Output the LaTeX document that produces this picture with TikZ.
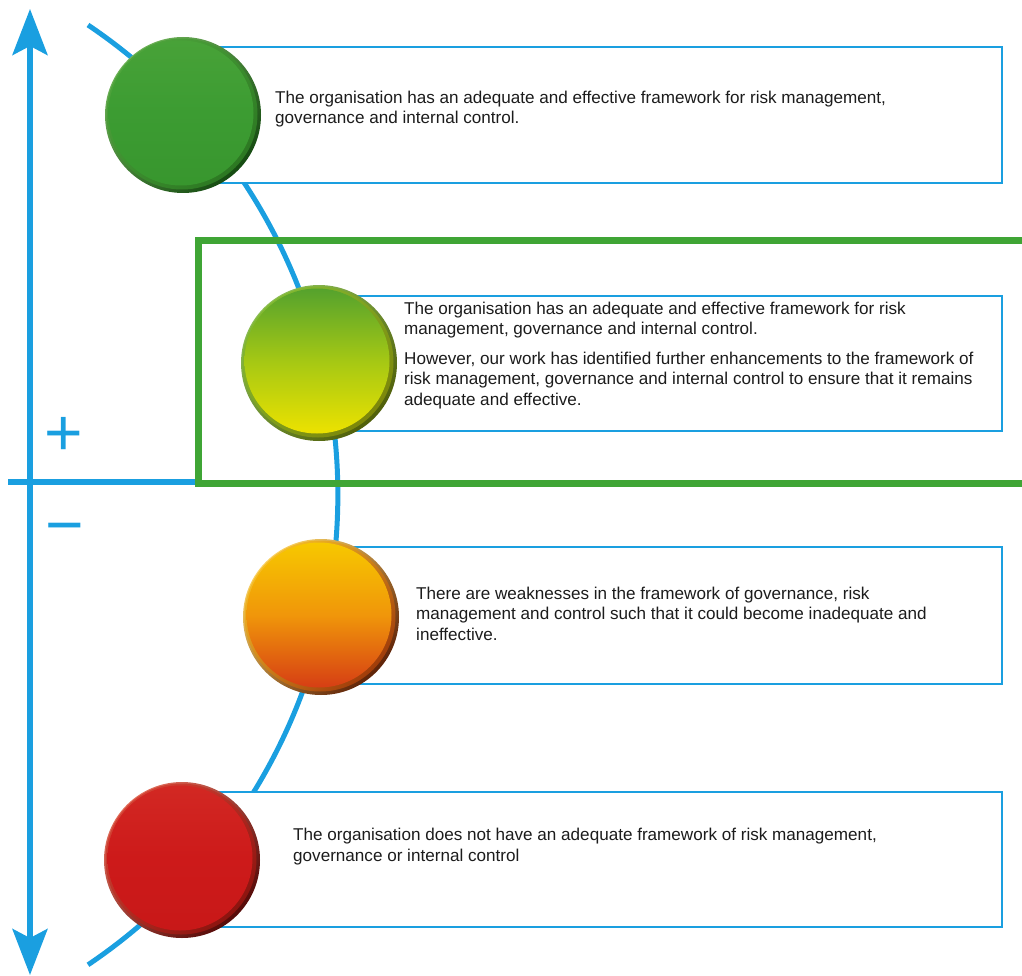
\documentclass[tikz,border=0pt]{standalone}
\usepackage{fontspec}
\setmainfont{Liberation Sans}
\usetikzlibrary{arrows.meta}

\definecolor{axisblue}{HTML}{1A9FE0}
\definecolor{framegreen}{HTML}{3FA535}
\definecolor{textgrey}{HTML}{1C1C1C}

\begin{document}
\begin{tikzpicture}[x=1pt, y=-1pt,
	axis/.style={draw=axisblue, line width=5.5pt},
	level/.style={draw=axisblue, line width=1.8pt, fill=white},
	rim/.style 2 args={circle, minimum size=156pt, inner sep=0pt, top color=#1, bottom color=#2, shading angle=45},
	edge/.style 2 args={circle, minimum size=151pt, inner sep=0pt, top color=#1, bottom color=#2, shading angle=45},
	face/.style n args={3}{circle, minimum size=145pt, inner sep=0pt, top color=#1, bottom color=#3, middle color=#2},
	blurb/.style={anchor=base west, inner sep=0pt, align=left, text=textgrey, font=\fontsize{17.1}{20.5}\selectfont},
	sign/.style={text=axisblue, inner sep=0pt, font=\fontsize{66}{66}\selectfont}]
	
	\clip (0, 0) rectangle (1022, 976);
	
	% axis
	\coordinate (top) at (30, 9);
	\coordinate (bottom) at (30, 975);
	\coordinate (zeroL) at (8, 482);
	\coordinate (zeroR) at (198, 482);
	\draw[axis, {Stealth[length=46pt, width=35pt, inset=9pt]}-{Stealth[length=46pt, width=35pt, inset=9pt]}] (top) -- (bottom);
	\draw[axis] (zeroL) -- (zeroR);
	\node (plus) [sign] at (64, 436) {+};
	\node (minus) [sign] at (65, 535) {−};
	
	% curve
	\draw[axisblue, line width=5pt] (88, 25) arc[start angle=-56, end angle=56, radius=566.8];
	
	% accepted level
	\draw[framegreen, line width=7pt] (1030, 241) -- (198, 241) -- (198, 483) -- (1030, 483);
	
	% boxes
	\draw[level] (183, 47) rectangle (1002, 183);
	\draw[level] (319, 296) rectangle (1002, 431);
	\draw[level] (321, 547) rectangle (1002, 684);
	\draw[level] (182, 792) rectangle (1002, 927);
	
	% balls
	\definecolor{gA}{RGB}{110,178,88}\definecolor{gB}{RGB}{22,75,18}
	\definecolor{gC}{RGB}{78,164,60}\definecolor{gD}{RGB}{44,120,34}
	\definecolor{gE}{RGB}{72,162,56}\definecolor{gF}{RGB}{60,156,50}\definecolor{gG}{RGB}{56,150,46}
	\node (c1) [rim={gA}{gB}] at (183, 115) {};
	\node (c1e) [edge={gC}{gD}] at ([shift={(-1, -1)}]c1.center) {};
	\node (c1f) [face={gE}{gF}{gG}] at ([shift={(-2, -2)}]c1.center) {};
	\definecolor{yA}{RGB}{140,190,85}\definecolor{yB}{RGB}{80,95,10}
	\definecolor{yC}{RGB}{130,185,50}\definecolor{yD}{RGB}{125,135,10}
	\definecolor{yE}{RGB}{85,162,45}\definecolor{yF}{RGB}{165,200,20}\definecolor{yG}{RGB}{236,226,0}
	\node (c2) [rim={yA}{yB}] at (319, 363) {};
	\node (c2e) [edge={yC}{yD}] at ([shift={(-1, -1)}]c2.center) {};
	\node (c2f) [face={yE}{yF}{yG}] at ([shift={(-2, -2)}]c2.center) {};
	\definecolor{oA}{RGB}{250,210,100}\definecolor{oB}{RGB}{95,35,8}
	\definecolor{oC}{RGB}{245,190,40}\definecolor{oD}{RGB}{160,60,10}
	\definecolor{oE}{RGB}{247,200,0}\definecolor{oF}{RGB}{240,150,10}\definecolor{oG}{RGB}{214,62,20}
	\node (c3) [rim={oA}{oB}] at (321, 617) {};
	\node (c3e) [edge={oC}{oD}] at ([shift={(-1, -1)}]c3.center) {};
	\node (c3f) [face={oE}{oF}{oG}] at ([shift={(-2, -2)}]c3.center) {};
	\definecolor{rA}{RGB}{225,110,92}\definecolor{rB}{RGB}{85,10,8}
	\definecolor{rC}{RGB}{212,66,52}\definecolor{rD}{RGB}{140,20,15}
	\definecolor{rE}{RGB}{210,40,35}\definecolor{rF}{RGB}{205,26,26}\definecolor{rG}{RGB}{200,24,24}
	\node (c4) [rim={rA}{rB}] at (182, 860) {};
	\node (c4e) [edge={rC}{rD}] at ([shift={(-1, -1)}]c4.center) {};
	\node (c4f) [face={rE}{rF}{rG}] at ([shift={(-2, -2)}]c4.center) {};
	
	% texts (anchored at the last line)
	\node (t1) [blurb] at (275, 124) {The organisation has an adequate and effective framework for risk management,\\governance and internal control.};
	\node (t2) [blurb] at (404, 405) {The organisation has an adequate and effective framework for risk\\management, governance and internal control.\\[9pt]However, our work has identified further enhancements to the framework of\\risk management, governance and internal control to ensure that it remains\\adequate and effective.};
	\node (t3) [blurb] at (416, 640) {There are weaknesses in the framework of governance, risk\\management and control such that it could become inadequate and\\ineffective.};
	\node (t4) [blurb] at (293, 861) {The organisation does not have an adequate framework of risk management,\\governance or internal control};
	
\end{tikzpicture}
\end{document}
